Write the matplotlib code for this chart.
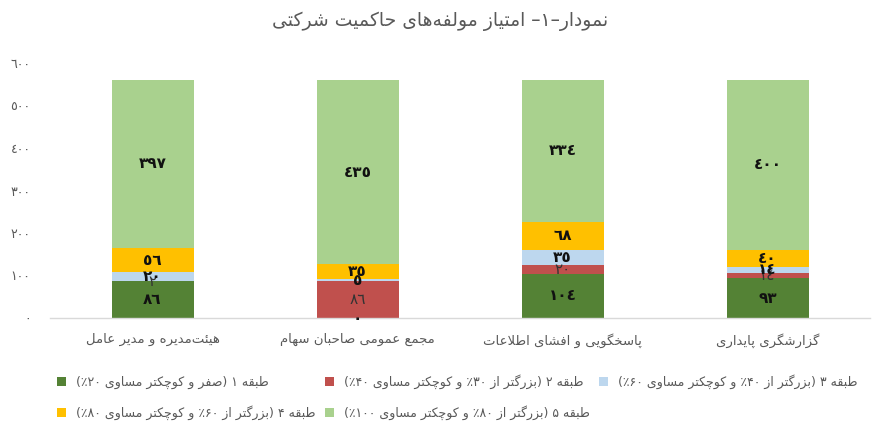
import matplotlib
matplotlib.use("Agg")
import matplotlib.pyplot as plt
from matplotlib.patches import Patch
import numpy as np

# ---------------- data ----------------
categories = ["هیئت‌مدیره و مدیر عامل", "مجمع عمومی صاحبان سهام",
              "پاسخگویی و افشای اطلاعات", "گزارشگری پایداری"]
tier1 = [86, 0, 104, 93]
tier2 = [2, 86, 20, 14]
tier3 = [20, 5, 35, 14]
tier4 = [56, 35, 68, 40]
tier5 = [397, 435, 334, 400]
series_names = ["طبقه ۱ (صفر و کوچکتر مساوی ۲۰٪)",
                "طبقه ۲ (بزرگتر از ۳۰٪ و کوچکتر مساوی ۴۰٪)",
                "طبقه ۳ (بزرگتر از ۴۰٪ و کوچکتر مساوی ۶۰٪)",
                "طبقه ۴ (بزرگتر از ۶۰٪ و کوچکتر مساوی ۸۰٪)",
                "طبقه ۵ (بزرگتر از ۸۰٪ و کوچکتر مساوی ۱۰۰٪)"]
colors = ["#548235", "#C0504D", "#BDD7EE", "#FFC000", "#A9D18E"]
title = "نمودار–۱– امتیاز مولفه‌های حاکمیت شرکتی"
yticks = [0, 100, 200, 300, 400, 500, 600]

# ---------------- minimal Persian shaping ----------------
FORMS = {
    'ا': ('\uFE8D', '\uFE8E', None, None),
    'آ': ('\uFE81', '\uFE82', None, None),
    'ب': ('\uFE8F', '\uFE90', '\uFE91', '\uFE92'),
    'پ': ('\uFB56', '\uFB57', '\uFB58', '\uFB59'),
    'ت': ('\uFE95', '\uFE96', '\uFE97', '\uFE98'),
    'ث': ('\uFE99', '\uFE9A', '\uFE9B', '\uFE9C'),
    'ج': ('\uFE9D', '\uFE9E', '\uFE9F', '\uFEA0'),
    'چ': ('\uFB7A', '\uFB7B', '\uFB7C', '\uFB7D'),
    'ح': ('\uFEA1', '\uFEA2', '\uFEA3', '\uFEA4'),
    'خ': ('\uFEA5', '\uFEA6', '\uFEA7', '\uFEA8'),
    'د': ('\uFEA9', '\uFEAA', None, None),
    'ذ': ('\uFEAB', '\uFEAC', None, None),
    'ر': ('\uFEAD', '\uFEAE', None, None),
    'ز': ('\uFEAF', '\uFEB0', None, None),
    'ژ': ('\uFB8A', '\uFB8B', None, None),
    'س': ('\uFEB1', '\uFEB2', '\uFEB3', '\uFEB4'),
    'ش': ('\uFEB5', '\uFEB6', '\uFEB7', '\uFEB8'),
    'ص': ('\uFEB9', '\uFEBA', '\uFEBB', '\uFEBC'),
    'ض': ('\uFEBD', '\uFEBE', '\uFEBF', '\uFEC0'),
    'ط': ('\uFEC1', '\uFEC2', '\uFEC3', '\uFEC4'),
    'ظ': ('\uFEC5', '\uFEC6', '\uFEC7', '\uFEC8'),
    'ع': ('\uFEC9', '\uFECA', '\uFECB', '\uFECC'),
    'غ': ('\uFECD', '\uFECE', '\uFECF', '\uFED0'),
    'ف': ('\uFED1', '\uFED2', '\uFED3', '\uFED4'),
    'ق': ('\uFED5', '\uFED6', '\uFED7', '\uFED8'),
    'ک': ('\uFB8E', '\uFB8F', '\uFB90', '\uFB91'),
    'گ': ('\uFB92', '\uFB93', '\uFB94', '\uFB95'),
    'ل': ('\uFEDD', '\uFEDE', '\uFEDF', '\uFEE0'),
    'م': ('\uFEE1', '\uFEE2', '\uFEE3', '\uFEE4'),
    'ن': ('\uFEE5', '\uFEE6', '\uFEE7', '\uFEE8'),
    'و': ('\uFEED', '\uFEEE', None, None),
    'ه': ('\uFEE9', '\uFEEA', '\uFEEB', '\uFEEC'),
    'ی': ('\uFBFC', '\uFBFD', '\uFBFE', '\uFBFF'),
    'ئ': ('\uFE89', '\uFE8A', '\uFE8B', '\uFE8C'),
}
DIGITS = set('۰۱۲۳۴۵۶۷۸۹٠١٢٣٤٥٦٧٨٩0123456789')
MIRROR = {'(': ')', ')': '('}


def _dual(c):
    return c in FORMS and FORMS[c][2] is not None


def shape(text):
    chars = list(text)
    out = []
    i = 0
    n = len(chars)
    while i < n:
        c = chars[i]
        if c == '\u200c':
            i += 1
            continue
        if c not in FORMS:
            out.append(c)
            i += 1
            continue
        prev = chars[i - 1] if i > 0 else ''
        join_prev = _dual(prev)
        if c == 'ل' and i + 1 < n and chars[i + 1] == 'ا':
            out.append('\uFEFC' if join_prev else '\uFEFB')
            i += 2
            continue
        nxt = chars[i + 1] if i + 1 < n else ''
        join_next = _dual(c) and (nxt in FORMS)
        iso, fin, ini, med = FORMS[c]
        if join_prev and join_next:
            out.append(med)
        elif join_prev:
            out.append(fin)
        elif join_next:
            out.append(ini)
        else:
            out.append(iso)
        i += 1
    return ''.join(out)


def rtl(text):
    s = shape(text)
    runs = []
    cur = ''
    cur_num = None
    for ch in s:
        isnum = ch in DIGITS
        if cur_num is None:
            cur_num = isnum
            cur = ch
        elif isnum == cur_num:
            cur += ch
        else:
            runs.append((cur, cur_num))
            cur, cur_num = ch, isnum
    if cur:
        runs.append((cur, cur_num))
    vis = []
    for r, isnum in reversed(runs):
        if isnum:
            vis.append(r)
        else:
            vis.append(''.join(MIRROR.get(ch, ch) for ch in reversed(r)))
    return ''.join(vis)


AR_DIGITS = '٠١٢٣٤٥٦٧٨٩'


def ar_num(v):
    return ''.join(AR_DIGITS[int(d)] for d in str(int(v)))


# ---------------- plot ----------------
plt.rcParams['font.family'] = ['DejaVu Sans']
fig = plt.figure(figsize=(8.8, 4.36), dpi=100)
ax = fig.add_axes([50 / 880, 1 - 318 / 436, 820 / 880, 255 / 436])

data = [tier1, tier2, tier3, tier4, tier5]
x = np.arange(len(categories))
bottom = np.zeros(len(categories))
handles = []
for k, (vals, col) in enumerate(zip(data, colors)):
    vals = np.array(vals, dtype=float)
    ax.bar(x, vals, width=0.4, bottom=bottom, color=col, edgecolor='none')
    for xi, b, v in zip(x, bottom, vals):
        if k == 1:
            tc, fw = '#333333', 'normal'
        else:
            tc, fw = '#111111', 'bold'
        ax.text(xi, b + v / 2, ar_num(v), ha='center', va='center',
                fontsize=11, color=tc, fontweight=fw)
    bottom += vals
    handles.append(Patch(facecolor=col, edgecolor='none'))

ax.set_xlim(-0.5, len(categories) - 0.5)
ax.set_ylim(0, 600)
ax.set_yticks(yticks)
ax.set_yticklabels([ar_num(t) for t in yticks], color='#595959', fontsize=9)
ax.set_xticks(x)
ax.set_xticklabels([rtl(c) for c in categories], color='#595959', fontsize=9.5)
ax.tick_params(axis='y', length=0, pad=14)
ax.tick_params(axis='x', length=0, pad=11)
for side in ['left', 'right', 'top']:
    ax.spines[side].set_visible(False)
ax.spines['bottom'].set_color('#D9D9D9')
ax.spines['bottom'].set_linewidth(1.0)

fig.text(440 / 880, 1 - 21 / 436, rtl(title), ha='center', va='center',
         fontsize=13.5, color='#595959')

order = [0, 3, 1, 4, 2]
leg = fig.legend([handles[i] for i in order],
                 [rtl(series_names[i]) for i in order],
                 ncol=3, loc='upper left', bbox_to_anchor=(57 / 880, 1 - 374 / 436),
                 frameon=False, fontsize=9, labelcolor='#595959',
                 handlelength=0.75, handleheight=0.75, handletextpad=0.8,
                 columnspacing=0.7, labelspacing=1.3, borderpad=0, borderaxespad=0)

fig.savefig('out.png', dpi=100)
